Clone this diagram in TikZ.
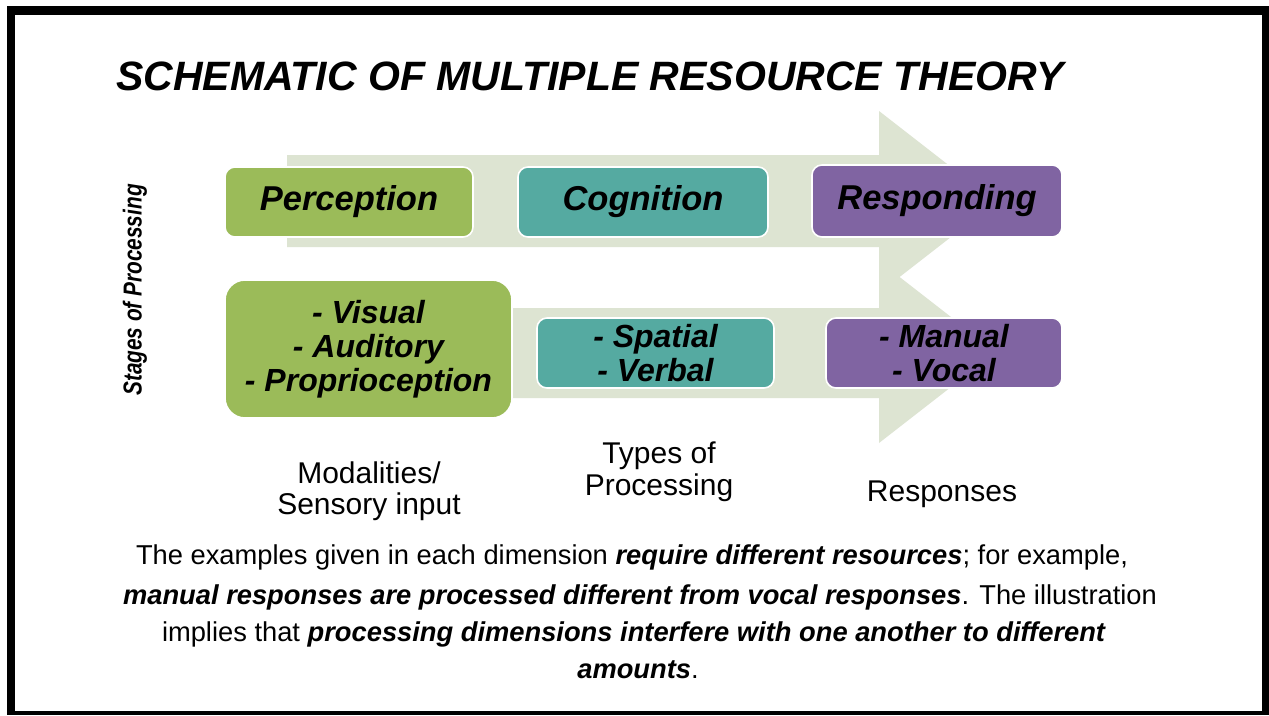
\documentclass[tikz,border=0pt]{standalone}
\usepackage{fontspec}
\setmainfont{Liberation Sans}
\definecolor{framec}{HTML}{000000}
\definecolor{flowc}{HTML}{DDE4D2}
\definecolor{greenc}{HTML}{9BBB59}
\definecolor{tealc}{HTML}{55AAA1}
\definecolor{purplec}{HTML}{8064A2}
\tikzset{
  stagebox/.style={draw=white, line width=1.6pt, rounded corners=10pt,
    inner sep=0pt, align=center, text=black,
    font=\fontsize{34.5}{38}\selectfont\bfseries\itshape},
  listbox/.style={stagebox, font=\fontsize{32}{34}\selectfont\bfseries\itshape},
  dimlabel/.style={align=center, text=black, font=\fontsize{30}{31.5}\selectfont},
  noteline/.style={anchor=base, text=black, inner sep=0pt,
    font=\fontsize{27.3}{30}\selectfont},
}
\newcommand{\bi}[1]{\textbf{\textit{#1}}}
\begin{document}
\begin{tikzpicture}[x=1pt,y=-1pt]
  \useasboundingbox (0,0) rectangle (1269,715);
  % slide frame
  \fill[framec] (7,6) rectangle (1269,715);
  \fill[white] (15,15) rectangle (1262,711);

  % title
  \node[anchor=base west, inner sep=0pt, font=\fontsize{41}{45}\selectfont\bfseries\itshape]
    (title) at (116,90) {SCHEMATIC OF MULTIPLE RESOURCE THEORY};

  % background flow arrows
  \fill[flowc] (287,155) -- (879,155) -- (879,111) -- (996,202) -- (879,293)
    -- (879,247) -- (287,247) -- cycle;
  \fill[flowc] (480,308) -- (879,308) -- (879,261) -- (996,352) -- (879,443)
    -- (879,398) -- (480,398) -- cycle;

  % stages
  \node[stagebox, fill=greenc, minimum width=248pt, minimum height=70pt]
    (perc) at (349,202) {Perception};
  \node[stagebox, fill=tealc, minimum width=250pt, minimum height=70pt]
    (cogn) at (643,202) {Cognition};
  \node[stagebox, fill=purplec, minimum width=250pt, minimum height=72pt]
    (resp) at (937,201) {Responding};

  % resources in each dimension
  \node[listbox, fill=greenc, rounded corners=20pt, minimum width=287pt, minimum height=138pt]
    (modal) at (368.5,349) {- Visual\\- Auditory\\- Proprioception};
  \node[listbox, fill=tealc, minimum width=237pt, minimum height=70pt]
    (types) at (655.5,353) {- Spatial\\- Verbal};
  \node[listbox, fill=purplec, minimum width=236pt, minimum height=70pt]
    (resps) at (944,353) {- Manual\\- Vocal};

  % axis label
  \node[rotate=90, inner sep=0pt, text=black,
    font=\fontsize{26}{28}\selectfont\bfseries\itshape]
    (stages) at (135,290) {\scalebox{0.8}[1]{Stages of Processing}};

  % dimension labels
  \node[dimlabel] (lmod) at (369,491) {Modalities/\\Sensory input};
  \node[dimlabel] (ltyp) at (659,472) {Types of\\Processing};
  \node[dimlabel] (lres) at (942,494) {Responses};

  % explanatory note
  \node[noteline] (n1) at (632,564)
    {The examples given in each dimension \bi{require different resources}; for example,};
  \node[noteline] (n2) at (640,604)
    {\bi{manual responses are processed different from vocal responses}. The illustration};
  \node[noteline] (n3) at (634,641)
    {implies that \bi{processing dimensions interfere with one another to different}};
  \node[noteline] (n4) at (638,678) {\bi{amounts}.};
\end{tikzpicture}
\end{document}
